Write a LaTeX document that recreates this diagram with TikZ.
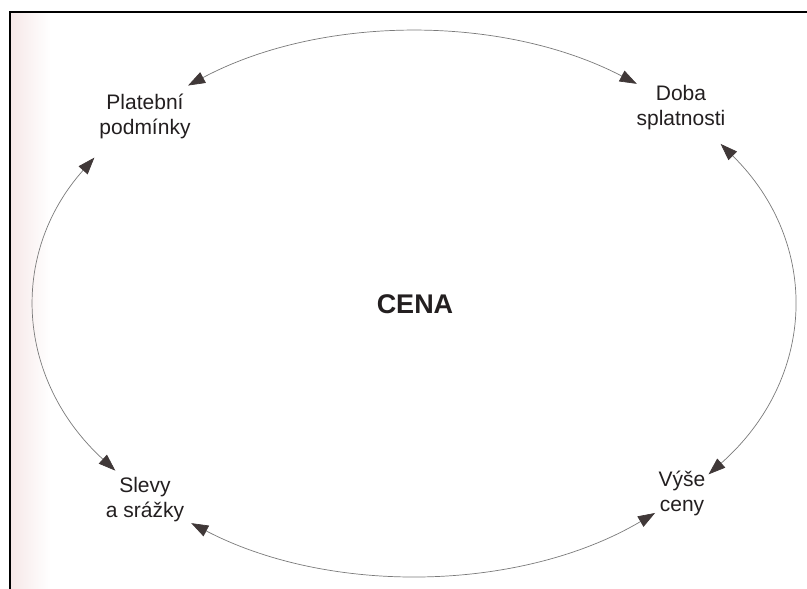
\documentclass[tikz,border=0pt]{standalone}
\usepackage{fontspec}
\setmainfont{Liberation Sans}
\usetikzlibrary{arrows.meta,calc}
\definecolor{ink}{HTML}{231F20}
\definecolor{tipc}{HTML}{403838}
\definecolor{arcc}{HTML}{7A7A7A}
\definecolor{scanpink}{HTML}{F6E8E8}
\begin{document}
\begin{tikzpicture}[x=1pt,y=1pt,
  lbl/.style={font=\fontsize{21}{25}\selectfont, text=ink, align=center, inner sep=0pt},
  title/.style={font=\fontsize{27}{30}\selectfont\bfseries, text=ink, inner sep=0pt},
  link/.style={draw=arcc, line width=0.7pt,
    {Triangle[length=17pt,width=12pt,color=tipc]}-{Triangle[length=17pt,width=12pt,color=tipc]}},
  frame/.style={draw=black, line width=2pt}]
\useasboundingbox (0,0) rectangle (807,589);
\fill[white] (0,0) rectangle (807,589);
\shade[left color=scanpink, right color=white] (11,0) rectangle (50,576);
\draw[frame] (10,0) -- (10,577) -- (807,577);
% labels
\node[lbl] (pp) at (145,473) {Platební\\podmínky};
\node[lbl] (ds) at (681,481) {Doba\\splatnosti};
\node[lbl] (ss) at (145,89.5) {Slevy\\a srážky};
\node[lbl] (vc) at (682,96) {Výše\\ceny};
\node[title] (cena) at (415,285) {CENA};
% ellipse points
\coordinate (o) at (414,285.5);
\coordinate (t1) at ($(o)+(126.6:379 and 271.5)$);
\coordinate (r1) at ($(o)+(36:379 and 271.5)$);
\coordinate (b1) at ($(o)+(-50.5:379 and 271.5)$);
\coordinate (l1) at ($(o)+(218:379 and 271.5)$);
% arcs
\draw[link] (t1) arc[start angle=126.6, end angle=54, x radius=379, y radius=271.5];
\draw[link] (r1) arc[start angle=36, end angle=-39, x radius=379, y radius=271.5];
\draw[link] (b1) arc[start angle=-50.5, end angle=-126, x radius=379, y radius=271.5];
\draw[link] (l1) arc[start angle=218, end angle=147.5, x radius=379, y radius=271.5];
\end{tikzpicture}
\end{document}
